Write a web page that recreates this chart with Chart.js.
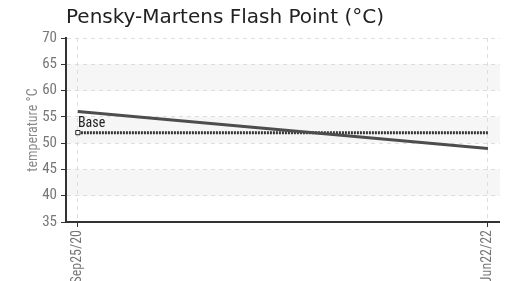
<!DOCTYPE html>
<html>
<head>
<meta charset="utf-8">
<script src="https://cdn.jsdelivr.net/npm/chart.js@4"></script>
<style>
  html, body { margin: 0; padding: 0; background: #fff; overflow: hidden; }
  #wrap { width: 508px; height: 281px; position: relative; }
</style>
</head>
<body>
<div id="wrap"><canvas id="flashchart"></canvas></div>
<script>
const dates = ['Sep25/20', 'Jun22/22'];
const flashPoint = [56, 49];
const baseLine = [52, 52];
const baseLabel = 'Base';
const yMin = 35, yMax = 70, yStep = 5;

const narrow = "'Roboto Condensed', Roboto, sans-serif";
const narrowWeight = 'normal condensed';

// alternating grey bands between every other pair of y ticks
const bandPlugin = {
    id: 'bands',
    beforeDraw(chart) {
        const {ctx, chartArea, scales} = chart;
        const y = scales.y;
        ctx.save();
        ctx.fillStyle = '#f6f6f6';
        for (let v = yMin + yStep; v < yMax; v += yStep * 2) {
            const top = y.getPixelForValue(v + yStep);
            const bottom = y.getPixelForValue(v);
            ctx.fillRect(chartArea.left, top, chartArea.right - chartArea.left, bottom - top);
        }
        ctx.restore();
    }
};

// "Base" text above the first point of the base line
const baseTextPlugin = {
    id: 'baseText',
    afterDatasetsDraw(chart) {
        const meta = chart.getDatasetMeta(1);
        const pt = meta.data[0];
        const ctx = chart.ctx;
        ctx.save();
        ctx.font = narrowWeight + ' 14px ' + narrow;
        ctx.fillStyle = '#222';
        ctx.textAlign = 'left';
        ctx.textBaseline = 'bottom';
        ctx.fillText(baseLabel, pt.x, pt.y - 2);
        ctx.restore();
    }
};

const ctx = document.getElementById('flashchart');

const data = {
    datasets: [
        {
            label: 'Flash point',
            data: flashPoint.map((v, i) => ({x: i, y: v})),
            borderColor: '#4d4d4d',
            borderWidth: 3,
            pointRadius: 0,
        },
        {
            label: baseLabel,
            data: baseLine.map((v, i) => ({x: i, y: v})),
            borderColor: '#333',
            borderWidth: 3,
            borderDash: [2, 1],
            pointStyle: 'rect',
            pointRadius: [3, 0],
            pointBackgroundColor: '#fff',
            pointBorderColor: '#222',
            pointBorderWidth: 1,
        },
    ]
};

const flashchart = new Chart(ctx, {
    type: 'line',
    data: data,
    plugins: [bandPlugin, baseTextPlugin],
    options: {
        responsive: true,
        maintainAspectRatio: false,
        animation: false,
        layout: {
            padding: {left: 0, right: 8, top: 0, bottom: 0}
        },
        plugins: {
            legend: {display: false},
            tooltip: {enabled: false},
            title: {
                display: true,
                text: 'Pensky-Martens Flash Point (°C)',
                align: 'start',
                fullSize: false,
                color: '#222',
                font: {family: "'DejaVu Sans', sans-serif", size: 20, weight: 'normal'},
                padding: {top: 6, bottom: 8}
            }
        },
        scales: {
            x: {
                type: 'linear',
                min: -0.029,
                max: 1.029,
                afterBuildTicks: function(scale) {
                    scale.ticks = dates.map((d, i) => ({value: i}));
                },
                afterFit: function(scale) {
                    scale.height = 59;
                },
                ticks: {
                    minRotation: 90,
                    maxRotation: 90,
                    color: '#777',
                    padding: 3,
                    font: {family: narrow, size: 14, weight: narrowWeight},
                    callback: function(value) {
                        return dates[value];
                    }
                },
                grid: {
                    color: '#ddd',
                    tickColor: '#333',
                    tickLength: 5,
                    tickBorderDash: [],
                },
                border: {
                    display: true,
                    color: '#333',
                    width: 2,
                    dash: [4, 4]
                }
            },
            y: {
                min: yMin,
                max: yMax,
                afterFit: function(scale) {
                    scale.width = 66;
                },
                ticks: {
                    stepSize: yStep,
                    color: '#777',
                    padding: 4,
                    font: {family: narrow, size: 15, weight: narrowWeight}
                },
                title: {
                    display: true,
                    text: 'temperature °C',
                    color: '#888',
                    padding: {top: 25, bottom: 0},
                    font: {family: narrow, size: 14, weight: narrowWeight}
                },
                grid: {
                    color: '#ddd',
                    tickColor: '#333',
                    tickLength: 5,
                    tickBorderDash: [],
                },
                border: {
                    display: true,
                    color: '#333',
                    width: 2,
                    dash: [4, 4]
                }
            }
        }
    }
});
</script>
</body>
</html>
